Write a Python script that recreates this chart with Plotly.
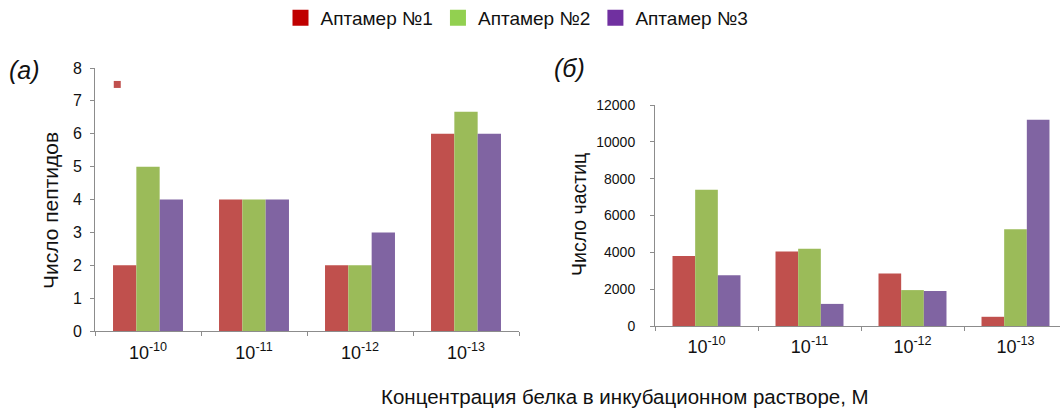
import plotly.graph_objects as go

# ---------------- data ----------------
categories = ["10<sup>-10</sup>", "10<sup>-11</sup>", "10<sup>-12</sup>", "10<sup>-13</sup>"]
series_names = ["Аптамер №1", "Аптамер №2", "Аптамер №3"]

peptides_apt1 = [2, 4, 2, 6]
peptides_apt2 = [5, 4, 2, 6.67]
peptides_apt3 = [4, 4, 3, 6]

particles_apt1 = [3800, 4050, 2850, 500]
particles_apt2 = [7400, 4200, 1950, 5250]
particles_apt3 = [2750, 1200, 1900, 11200]

stray_marker_value = [7.5]  # small red square in panel (а), first category

left_yticks = [0, 1, 2, 3, 4, 5, 6, 7, 8]
right_yticks = [0, 2000, 4000, 6000, 8000, 10000, 12000]

# ---------------- style ----------------
W, H = 1060, 409
FONT = "Liberation Sans, Arial, sans-serif"
TXT = "#111111"
bar_colors = ["#C0504D", "#9BBB59", "#8064A2"]
legend_colors = ["#C00000", "#92D050", "#7030A0"]
AXIS_GRAY = "#8C8C8C"

xpos = list(range(len(categories)))
boundaries = [i - 0.5 for i in range(len(categories) + 1)]


def px_x(p):
    return p / W


def px_y(p):
    return (H - p) / H


fig = go.Figure()

left_series = [peptides_apt1, peptides_apt2, peptides_apt3]
right_series = [particles_apt1, particles_apt2, particles_apt3]

for name, vals, col in zip(series_names, left_series, bar_colors):
    fig.add_trace(go.Bar(x=xpos, y=vals, name=name, marker=dict(color=col, line=dict(width=0)),
                         showlegend=False, xaxis="x", yaxis="y", hoverinfo="y"))

for name, vals, col in zip(series_names, right_series, bar_colors):
    fig.add_trace(go.Bar(x=xpos, y=vals, name=name, marker=dict(color=col, line=dict(width=0)),
                         showlegend=False, xaxis="x2", yaxis="y2", hoverinfo="y"))

# stray small square in panel (а)
fig.add_trace(go.Scatter(x=[xpos[0] - 0.29], y=stray_marker_value, mode="markers",
                         marker=dict(symbol="square", size=7, color=bar_colors[0]),
                         showlegend=False, cliponaxis=False, xaxis="x", yaxis="y"))

# legend entries
for name, col in zip(series_names, legend_colors):
    fig.add_trace(go.Scatter(x=[None], y=[None], mode="markers", name=name,
                             marker=dict(symbol="square", size=16, color=col),
                             xaxis="x", yaxis="y"))

common_x = dict(showline=True, linecolor=AXIS_GRAY, linewidth=1, showgrid=False, zeroline=False,
                tickmode="array", tickvals=xpos, ticktext=categories, ticks="",
                tickfont=dict(family=FONT, size=18, color=TXT),
                minor=dict(tickmode="array", tickvals=boundaries, ticks="outside", ticklen=4,
                           tickcolor=AXIS_GRAY, tickwidth=1, showgrid=False),
                fixedrange=True, automargin=False)
common_y = dict(showline=True, linecolor=AXIS_GRAY, linewidth=1, showgrid=False, zeroline=False,
                ticks="outside", ticklen=4, tickcolor=AXIS_GRAY, tickwidth=1, fixedrange=True,
                tickmode="array", tickformat="d", automargin=False)

fig.update_layout(
    template="none",
    width=W, height=H,
    margin=dict(l=0, r=0, t=0, b=0, pad=0, autoexpand=False),
    paper_bgcolor="white", plot_bgcolor="white",
    barmode="group", bargap=0.34, bargroupgap=0,
    font=dict(family=FONT, color=TXT),
    xaxis=dict(domain=[px_x(95), px_x(519)], range=[-0.5, 3.5], anchor="y",
               ticklabelstandoff=5, **common_x),
    yaxis=dict(domain=[px_y(331), px_y(68)], range=[0, 8], anchor="x",
               tickvals=left_yticks,
               tickfont=dict(family=FONT, size=16, color=TXT),
               ticklabelstandoff=5, **common_y),
    xaxis2=dict(domain=[px_x(655), 1.0], range=[-0.5, -0.5 + 405 / 103], anchor="y2",
                ticklabelstandoff=4, **common_x),
    yaxis2=dict(domain=[px_y(326), px_y(105)], range=[0, 12000], anchor="x2",
                tickvals=right_yticks,
                tickfont=dict(family=FONT, size=14, color=TXT),
                ticklabelstandoff=12, **common_y),
    legend=dict(orientation="h", x=px_x(517), xanchor="center", y=px_y(18), yanchor="middle",
                font=dict(family=FONT, size=19, color=TXT), bgcolor="rgba(0,0,0,0)",
                borderwidth=0, itemclick=False, itemdoubleclick=False),
    showlegend=True,
    annotations=[
        dict(text="<i>(а)</i>", x=px_x(24), y=px_y(70), xref="paper", yref="paper",
             xanchor="center", yanchor="middle",
             showarrow=False, font=dict(family=FONT, size=25, color=TXT)),
        dict(text="<i>(б)</i>", x=px_x(569), y=px_y(68), xref="paper", yref="paper",
             xanchor="center", yanchor="middle",
             showarrow=False, font=dict(family=FONT, size=25, color=TXT)),
        dict(text="Число пептидов", x=px_x(50), y=px_y(211), xref="paper", yref="paper",
             xanchor="center", yanchor="middle",
             textangle=-90, showarrow=False, font=dict(family=FONT, size=21, color=TXT)),
        dict(text="Число частиц", x=px_x(579), y=px_y(215), xref="paper", yref="paper",
             xanchor="center", yanchor="middle",
             textangle=-90, showarrow=False, font=dict(family=FONT, size=19.5, color=TXT)),
        dict(text="Концентрация белка в инкубационном растворе, М", x=px_x(625), y=px_y(396),
             xref="paper", yref="paper", xanchor="center", yanchor="middle", showarrow=False,
             font=dict(family=FONT, size=20.5, color=TXT)),
    ],
)

fig.write_html("out.html")
